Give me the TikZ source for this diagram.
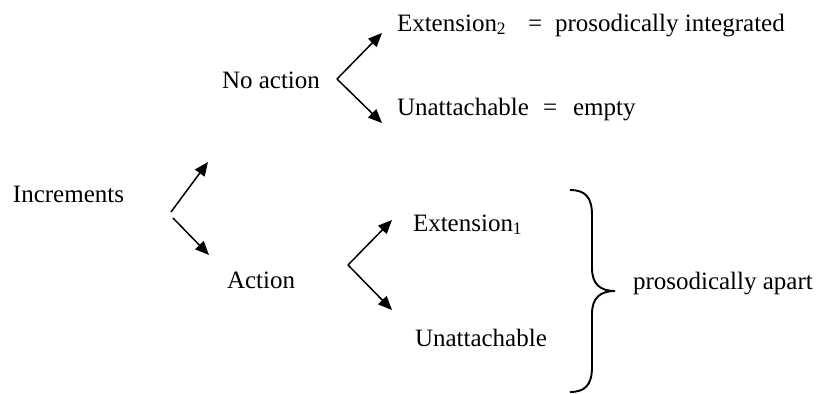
\documentclass[tikz,border=0pt]{standalone}
\usepackage{fontspec}
\setmainfont{Liberation Serif}
\usepackage{tikz}
\usetikzlibrary{arrows.meta}

\tikzset{
  lbl/.style={anchor=base west, inner sep=0pt, outer sep=0pt},
  arr/.style={-{Triangle[length=6.5pt,width=5.5pt]}, line width=0.7pt},
  brc/.style={line width=0.9pt}
}

\begin{document}
\begin{tikzpicture}[x=0.47pt, y=-0.47pt, font=\fontsize{11.75}{14}\selectfont]
\useasboundingbox (0,0) rectangle (817,394);

\node[lbl] (incr) at (13,202) {Increments};
\node[lbl] (noact) at (222,88) {No action};
\node[lbl] (act) at (227,288) {Action};

\node[lbl] (ext2) at (397,31) {Extension\textsubscript{2}};
\node[lbl] (eqA) at (528,31) {=};
\node[lbl] (integ) at (555,31) {prosodically integrated};
\node[lbl] (unattA) at (397,115) {Unattachable};
\node[lbl] (eqB) at (543,115) {=};
\node[lbl] (empty) at (573,115) {empty};

\node[lbl] (ext1) at (413,231) {Extension\textsubscript{1}};
\node[lbl] (unattB) at (415,346) {Unattachable};
\node[lbl] (apart) at (633,289) {prosodically apart};

\coordinate (incrUp) at (171,212);
\coordinate (incrUpEnd) at (208,162);
\coordinate (incrDn) at (173,218);
\coordinate (incrDnEnd) at (209,255);
\draw[arr] (incrUp) -- (incrUpEnd);
\draw[arr] (incrDn) -- (incrDnEnd);

\coordinate (noactV) at (337,79);
\coordinate (noactUp) at (382,33);
\coordinate (noactDn) at (382,123);
\draw[arr] (noactV) -- (noactUp);
\draw[arr] (noactV) -- (noactDn);

\coordinate (actV) at (348,265);
\coordinate (actUp) at (392,220);
\coordinate (actDn) at (392,310);
\draw[arr] (actV) -- (actUp);
\draw[arr] (actV) -- (actDn);

\draw[brc] (570,190) .. controls (585,190) and (592,197) .. (592,215) -- (592,268)
  .. controls (592,284) and (600,291) .. (615,291)
  .. controls (600,291) and (592,298) .. (592,314) -- (592,367)
  .. controls (592,385) and (585,392) .. (570,392);
\end{tikzpicture}
\end{document}
